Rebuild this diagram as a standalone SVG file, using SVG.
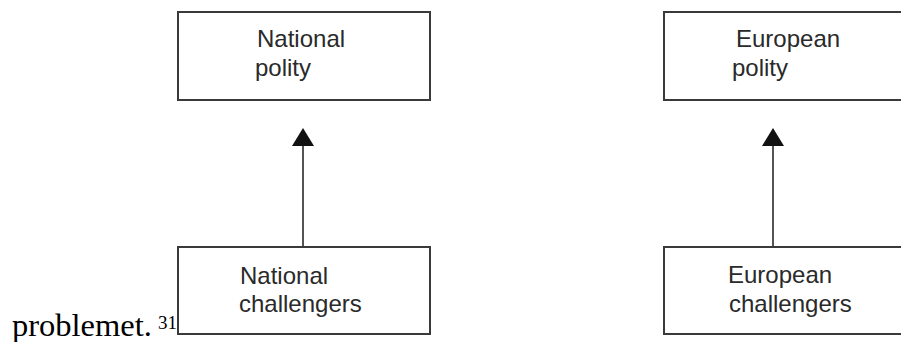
<svg xmlns="http://www.w3.org/2000/svg" width="901" height="342" viewBox="0 0 901 342">
<style>
.box{fill:#fff;stroke:#3a3a3a;stroke-width:2}
.lbl{font-family:"Liberation Sans",Arial,sans-serif;font-size:24px;fill:#2a2a2a}
.conn{stroke:#555;stroke-width:2;fill:none}
.body{font-family:"Liberation Serif","Times New Roman",serif;fill:#000}
</style>
<rect width="901" height="342" fill="#fff"/>
<text class="body" x="12" y="336" font-size="32.5">problemet.</text>
<text class="body" x="158" y="329" font-size="19">31</text>
<g id="national-polity">
<rect class="box" x="178" y="12" width="252" height="88"/>
<text class="lbl" x="257" y="47">National</text>
<text class="lbl" x="255" y="76">polity</text>
</g>
<g id="european-polity">
<rect class="box" x="664" y="12" width="252" height="88"/>
<text class="lbl" x="736" y="47">European</text>
<text class="lbl" x="732" y="76">polity</text>
</g>
<g id="national-challengers">
<rect class="box" x="178" y="247" width="252" height="87"/>
<text class="lbl" x="240" y="284">National</text>
<text class="lbl" x="239" y="312">challengers</text>
</g>
<g id="european-challengers">
<rect class="box" x="664" y="247" width="252" height="87"/>
<text class="lbl" x="728" y="283">European</text>
<text class="lbl" x="729" y="312">challengers</text>
</g>
<g id="connectors">
<path class="conn" d="M303 246 V146"/>
<path d="M303 128 L314 146 L292 146 Z" fill="#111"/>
<path class="conn" d="M773 246 V146"/>
<path d="M773 128 L784 146 L762 146 Z" fill="#111"/>
</g>
</svg>
